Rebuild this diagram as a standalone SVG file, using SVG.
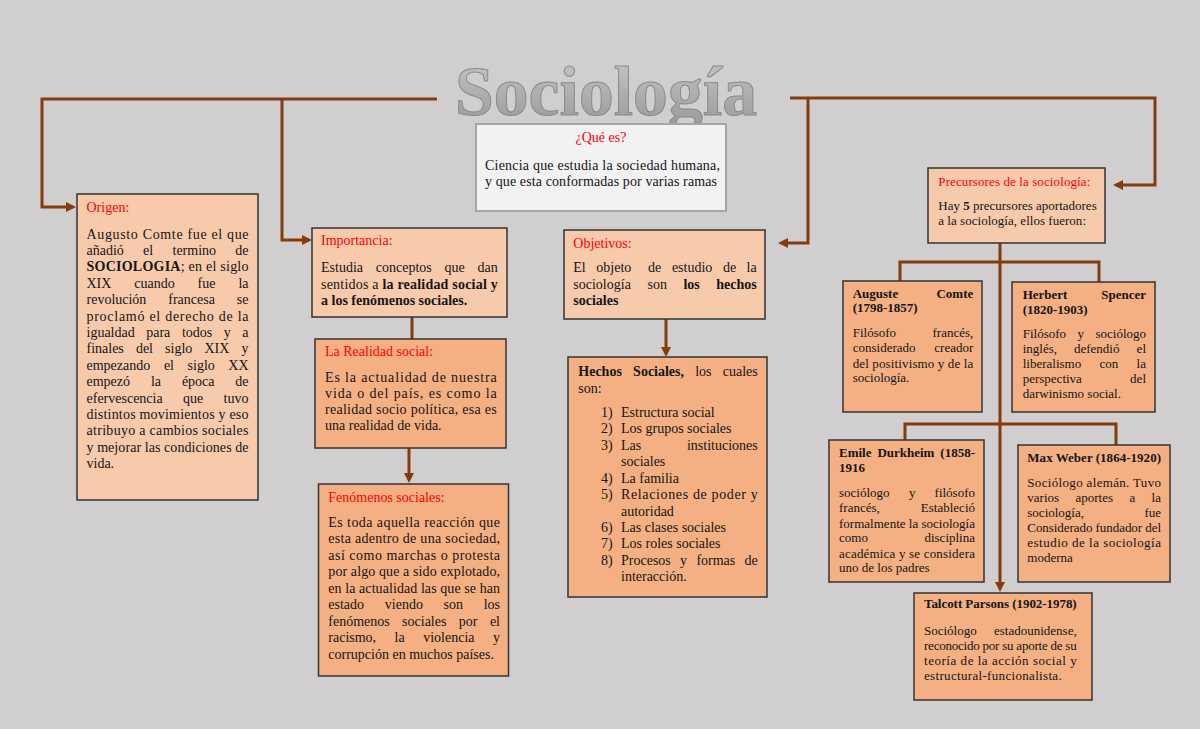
<svg xmlns="http://www.w3.org/2000/svg" width="1200" height="729" viewBox="0 0 1200 729">
<defs>
<style>
.t{font-family:"Liberation Serif","Times New Roman",serif;font-size:14px;fill:#151515}
.s{font-size:13px}
.r{fill:#ff0000}
.b{font-weight:bold}
.e{text-anchor:end}
.c{text-anchor:middle}
.b1{fill:#f7caac;stroke:#333;stroke-width:1.5}
.b2{fill:#f4b083;stroke:#333;stroke-width:1.5}
.conn{stroke:#843c0c;stroke-width:3;fill:none}
</style>
<linearGradient id="tg" x1="0" y1="0" x2="0" y2="1">
<stop offset="0" stop-color="#c9c9c9"/>
<stop offset="1" stop-color="#979797"/>
</linearGradient>
<marker id="ah" markerUnits="userSpaceOnUse" markerWidth="10" markerHeight="10" refX="7" refY="5" orient="auto">
<path d="M0,0 L10,5 L0,10 z" fill="#843c0c"/>
</marker>
</defs>
<rect width="1200" height="729" fill="#d0cece"/>

<g id="title">
<text x="455" y="115" textLength="302" lengthAdjust="spacingAndGlyphs" style="font-family:'Liberation Serif',serif;font-size:70px;font-weight:bold" fill="url(#tg)" stroke="#8a8a8a" stroke-width="1">Sociología</text>
</g>

<g id="connectors">
<path class="conn" d="M437,99 H42 V207 H73" marker-end="url(#ah)"/>
<path class="conn" d="M282,99 V240 H309" marker-end="url(#ah)"/>
<path class="conn" d="M790,98 H1155 V185 H1116" marker-end="url(#ah)"/>
<path class="conn" d="M808,98 V243 H781" marker-end="url(#ah)"/>
<path class="conn" d="M412,317 V339"/>
<path class="conn" d="M409,448 V480" marker-end="url(#ah)"/>
<path class="conn" d="M666,319 V354" marker-end="url(#ah)"/>
<path class="conn" d="M1000,243 V589" marker-end="url(#ah)"/>
<path class="conn" d="M900,281 V262 H1099 V283"/>
<path class="conn" d="M905,440 V424 H1116 V445"/>
</g>

<g id="que-es">
<rect x="476" y="124" width="250" height="87" fill="#f2f2f2" stroke="#a6a6a6" stroke-width="2"/>
<text class="t r c" x="601" y="141.5">¿Qué es?</text>
<text class="t" x="485" y="170" textLength="235" lengthAdjust="spacing">Ciencia que estudia la sociedad humana,</text>
<text class="t" x="485" y="186" textLength="232" lengthAdjust="spacing">y que esta conformadas por varias ramas</text>
</g>

<g id="origen">
<rect class="b1" x="77" y="194" width="181" height="306"/>
<text class="t r" x="86.5" y="211.5">Origen:</text>
<text class="t" x="86.5" y="238.5" textLength="162" lengthAdjust="spacing">Augusto Comte fue el que</text>
<text class="t" y="254.9"><tspan x="86.5">añadió</tspan><tspan x="143.1">el</tspan><tspan x="172.5">termino</tspan></text>
<text class="t e" x="248.5" y="254.9">de</text>
<text class="t" x="86.5" y="271.3" textLength="162" lengthAdjust="spacing"><tspan class="b">SOCIOLOGIA</tspan>; en el siglo</text>
<text class="t" y="287.7"><tspan x="86.5">XIX</tspan><tspan x="134.3">cuando</tspan><tspan x="197.6">fue</tspan></text>
<text class="t e" x="248.5" y="287.7">la</text>
<text class="t" y="304.1"><tspan x="86.5">revolución</tspan><tspan x="168.3">francesa</tspan></text>
<text class="t e" x="248.5" y="304.1">se</text>
<text class="t" x="86.5" y="320.5" textLength="162" lengthAdjust="spacing">proclamó el derecho de la</text>
<text class="t" y="336.9"><tspan x="86.5">igualdad</tspan><tspan x="146.2">para</tspan><tspan x="181.9">todos</tspan><tspan x="223.7">y</tspan></text>
<text class="t e" x="248.5" y="336.9">a</text>
<text class="t" y="353.3"><tspan x="86.5">finales</tspan><tspan x="135.9">del</tspan><tspan x="165.1">siglo</tspan><tspan x="204.4">XIX</tspan></text>
<text class="t e" x="248.5" y="353.3">y</text>
<text class="t" y="369.7"><tspan x="86.5">empezando</tspan><tspan x="163.9">el</tspan><tspan x="187.6">siglo</tspan></text>
<text class="t e" x="248.5" y="369.7">XX</text>
<text class="t" y="386.1"><tspan x="86.5">empezó</tspan><tspan x="150.9">la</tspan><tspan x="181.9">época</tspan></text>
<text class="t e" x="248.5" y="386.1">de</text>
<text class="t" y="402.5"><tspan x="86.5">efervescencia</tspan><tspan x="183">que</tspan></text>
<text class="t e" x="248.5" y="402.5">tuvo</text>
<text class="t" x="86.5" y="418.9" textLength="162" lengthAdjust="spacing">distintos movimientos y eso</text>
<text class="t" x="86.5" y="435.3" textLength="162" lengthAdjust="spacing">atribuyo a cambios sociales</text>
<text class="t" x="86.5" y="451.7" textLength="162" lengthAdjust="spacing">y mejorar las condiciones de</text>
<text class="t" x="86.5" y="468.1">vida.</text>
</g>

<g id="importancia">
<rect class="b1" x="312" y="228" width="195" height="89"/>
<text class="t r" x="321" y="245">Importancia:</text>
<text class="t" y="272"><tspan x="321">Estudia</tspan><tspan x="375.8">conceptos</tspan><tspan x="444.6">que</tspan></text>
<text class="t e" x="497.7" y="272">dan</text>
<text class="t" x="321" y="288.5" textLength="176.7" lengthAdjust="spacing">sentidos a <tspan class="b">la realidad social y</tspan></text>
<text class="t b" x="321" y="304.5">a los fenómenos sociales.</text>
</g>

<g id="realidad-social">
<rect class="b2" x="315" y="339" width="191" height="109"/>
<text class="t r" x="325" y="355.7">La Realidad social:</text>
<text class="t" x="325" y="381.5" textLength="171.7" lengthAdjust="spacing">Es la actualidad de nuestra</text>
<text class="t" x="325" y="397.8" textLength="171.7" lengthAdjust="spacing">vida o del país, es como la</text>
<text class="t" x="325" y="414.1" textLength="171.7" lengthAdjust="spacing">realidad socio política, esa es</text>
<text class="t" x="325" y="430.4">una realidad de vida.</text>
</g>

<g id="fenomenos-sociales">
<rect class="b2" x="318.5" y="484" width="190" height="192"/>
<text class="t r" x="328.3" y="501.7">Fenómenos sociales:</text>
<text class="t" x="328.3" y="526.7" textLength="171.7" lengthAdjust="spacing">Es toda aquella reacción que</text>
<text class="t" x="328.3" y="543.2" textLength="171.7" lengthAdjust="spacing">esta adentro de una sociedad,</text>
<text class="t" x="328.3" y="559.7" textLength="171.7" lengthAdjust="spacing">así como marchas o protesta</text>
<text class="t" x="328.3" y="576.2" textLength="171.7" lengthAdjust="spacing">por algo que a sido explotado,</text>
<text class="t" x="328.3" y="592.7" textLength="171.7" lengthAdjust="spacing">en la actualidad las que se han</text>
<text class="t" y="609.2"><tspan x="328.3">estado</tspan><tspan x="384.8">viendo</tspan><tspan x="443.6">son</tspan></text>
<text class="t e" x="500" y="609.2">los</text>
<text class="t" y="625.7"><tspan x="328.3">fenómenos</tspan><tspan x="402.1">sociales</tspan><tspan x="458.8">por</tspan></text>
<text class="t e" x="500" y="625.7">el</text>
<text class="t" y="642.2"><tspan x="328.3">racismo,</tspan><tspan x="394.6">la</tspan><tspan x="423.2">violencia</tspan></text>
<text class="t e" x="500" y="642.2">y</text>
<text class="t" x="328.3" y="658.7">corrupción en muchos países.</text>
</g>

<g id="objetivos">
<rect class="b1" x="564" y="230" width="201" height="89"/>
<text class="t r" x="573.3" y="247.7">Objetivos:</text>
<text class="t" y="272.3"><tspan x="573.3">El</tspan><tspan x="596.3">objeto</tspan><tspan x="648.1">de</tspan><tspan x="671.9">estudio</tspan><tspan x="722.9">de</tspan></text>
<text class="t e" x="756.7" y="272.3">la</text>
<text class="t" y="289"><tspan x="573.3">sociología</tspan><tspan x="647.5">son</tspan><tspan x="683.4" class="b">los</tspan></text>
<text class="t e b" x="756.7" y="289">hechos</text>
<text class="t b" x="573.3" y="305.3">sociales</text>
</g>

<g id="hechos-sociales">
<rect class="b2" x="568" y="357" width="199" height="240"/>
<text class="t" y="376"><tspan x="578.3" class="b">Hechos</tspan><tspan x="633.1" class="b">Sociales,</tspan><tspan x="695.2">los</tspan></text>
<text class="t e" x="757.7" y="376">cuales</text>
<text class="t" x="578.3" y="392.7">son:</text>
<text class="t" y="416.5"><tspan x="601">1)</tspan><tspan x="621">Estructura social</tspan></text>
<text class="t" y="433"><tspan x="601">2)</tspan><tspan x="621">Los grupos sociales</tspan></text>
<text class="t" y="449.5"><tspan x="601">3)</tspan><tspan x="621">Las</tspan></text>
<text class="t e" x="757.7" y="449.5">instituciones</text>
<text class="t" x="621" y="466">sociales</text>
<text class="t" y="482.5"><tspan x="601">4)</tspan><tspan x="621">La familia</tspan></text>
<text class="t" x="601" y="499">5)</text>
<text class="t" x="621" y="499" textLength="136.7" lengthAdjust="spacing">Relaciones de poder y</text>
<text class="t" x="621" y="515.5">autoridad</text>
<text class="t" y="532"><tspan x="601">6)</tspan><tspan x="621">Las clases sociales</tspan></text>
<text class="t" y="548"><tspan x="601">7)</tspan><tspan x="621">Los roles sociales</tspan></text>
<text class="t" y="564.5"><tspan x="601">8)</tspan><tspan x="621">Procesos</tspan><tspan x="680.1">y</tspan><tspan x="696.4">formas</tspan></text>
<text class="t e" x="757.7" y="564.5">de</text>
<text class="t" x="621" y="581">interacción.</text>
</g>

<g id="precursores">
<rect class="b1" x="928" y="168" width="177" height="75"/>
<text class="t s r" x="938.3" y="185.7" textLength="152" lengthAdjust="spacing">Precursores de la sociología:</text>
<text class="t s" x="938.3" y="210" textLength="158.4" lengthAdjust="spacing">Hay <tspan class="b">5</tspan> precursores aportadores</text>
<text class="t s" x="938.3" y="225" textLength="147.7" lengthAdjust="spacing">a la sociología, ellos fueron:</text>
</g>

<g id="auguste-comte">
<rect class="b2" x="843" y="281" width="139" height="131"/>
<text class="t s b" x="852.7" y="297.7">Auguste</text>
<text class="t s b e" x="973.3" y="297.7">Comte</text>
<text class="t s b" x="852.7" y="312.3">(1798-1857)</text>
<text class="t s" x="852.7" y="336.7">Filósofo</text>
<text class="t s e" x="973.3" y="336.7">francés,</text>
<text class="t s" x="852.7" y="352.3">considerado</text>
<text class="t s e" x="973.3" y="352.3">creador</text>
<text class="t s" x="852.7" y="367.7" textLength="120.6" lengthAdjust="spacing">del positivismo y de la</text>
<text class="t s" x="852.7" y="382.3">sociología.</text>
</g>

<g id="herbert-spencer">
<rect class="b2" x="1012" y="282" width="143" height="130"/>
<text class="t s b" x="1022.7" y="299">Herbert</text>
<text class="t s b e" x="1146" y="299">Spencer</text>
<text class="t s b" x="1022.7" y="314.3">(1820-1903)</text>
<text class="t s" y="338.3"><tspan x="1022.7">Filósofo</tspan><tspan x="1077.5">y</tspan></text>
<text class="t s e" x="1146" y="338.3">sociólogo</text>
<text class="t s" y="353.3"><tspan x="1022.7">inglés,</tspan><tspan x="1074">defendió</tspan></text>
<text class="t s e" x="1146" y="353.3">el</text>
<text class="t s" y="368.3"><tspan x="1022.7">liberalismo</tspan><tspan x="1099.5">con</tspan></text>
<text class="t s e" x="1146" y="368.3">la</text>
<text class="t s" x="1022.7" y="383.3">perspectiva</text>
<text class="t s e" x="1146" y="383.3">del</text>
<text class="t s" x="1022.7" y="398.3">darwinismo social.</text>
</g>

<g id="emile-durkheim">
<rect class="b2" x="829" y="440" width="155" height="142"/>
<text class="t s b" y="456.7"><tspan x="839">Emile</tspan><tspan x="877.4">Durkheim</tspan></text>
<text class="t s b e" x="975" y="456.7">(1858-</text>
<text class="t s b" x="839" y="472.3">1916</text>
<text class="t s" y="496.7"><tspan x="839">sociólogo</tspan><tspan x="908.9">y</tspan></text>
<text class="t s e" x="975" y="496.7">filósofo</text>
<text class="t s" x="839" y="511.7">francés,</text>
<text class="t s e" x="975" y="511.7">Estableció</text>
<text class="t s" x="839" y="527.7" textLength="136" lengthAdjust="spacing">formalmente la sociología</text>
<text class="t s" x="839" y="542.3">como</text>
<text class="t s e" x="975" y="542.3">disciplina</text>
<text class="t s" x="839" y="557.7" textLength="136" lengthAdjust="spacing">académica y se considera</text>
<text class="t s" x="839" y="572.3">uno de los padres</text>
</g>

<g id="max-weber">
<rect class="b2" x="1018" y="445" width="152" height="137"/>
<text class="t s b" x="1027.3" y="461.7" textLength="133.7" lengthAdjust="spacing">Max Weber (1864-1920)</text>
<text class="t s" x="1027.3" y="486.7" textLength="133.7" lengthAdjust="spacing">Sociólogo alemán. Tuvo</text>
<text class="t s" y="501.7"><tspan x="1027.3">varios</tspan><tspan x="1075.5">aportes</tspan><tspan x="1129.4">a</tspan></text>
<text class="t s e" x="1161" y="501.7">la</text>
<text class="t s" x="1027.3" y="516.7">sociología,</text>
<text class="t s e" x="1161" y="516.7">fue</text>
<text class="t s" x="1027.3" y="531.7" textLength="133.7" lengthAdjust="spacing">Considerado fundador del</text>
<text class="t s" x="1027.3" y="546.7" textLength="133.7" lengthAdjust="spacing">estudio de la sociología</text>
<text class="t s" x="1027.3" y="561.7">moderna</text>
</g>

<g id="talcott-parsons">
<rect class="b2" x="914" y="593" width="178" height="107"/>
<text class="t s b" x="924" y="608.3" textLength="152.7" lengthAdjust="spacing">Talcott Parsons (1902-1978)</text>
<text class="t s" x="924" y="635">Sociólogo</text>
<text class="t s e" x="1076.7" y="635">estadounidense,</text>
<text class="t s" x="924" y="650" textLength="152.7" lengthAdjust="spacing">reconocido por su aporte de su</text>
<text class="t s" x="924" y="665" textLength="152.7" lengthAdjust="spacing">teoría de la acción social y</text>
<text class="t s" x="924" y="680" textLength="137.7" lengthAdjust="spacing">estructural-funcionalista.</text>
</g>
</svg>
